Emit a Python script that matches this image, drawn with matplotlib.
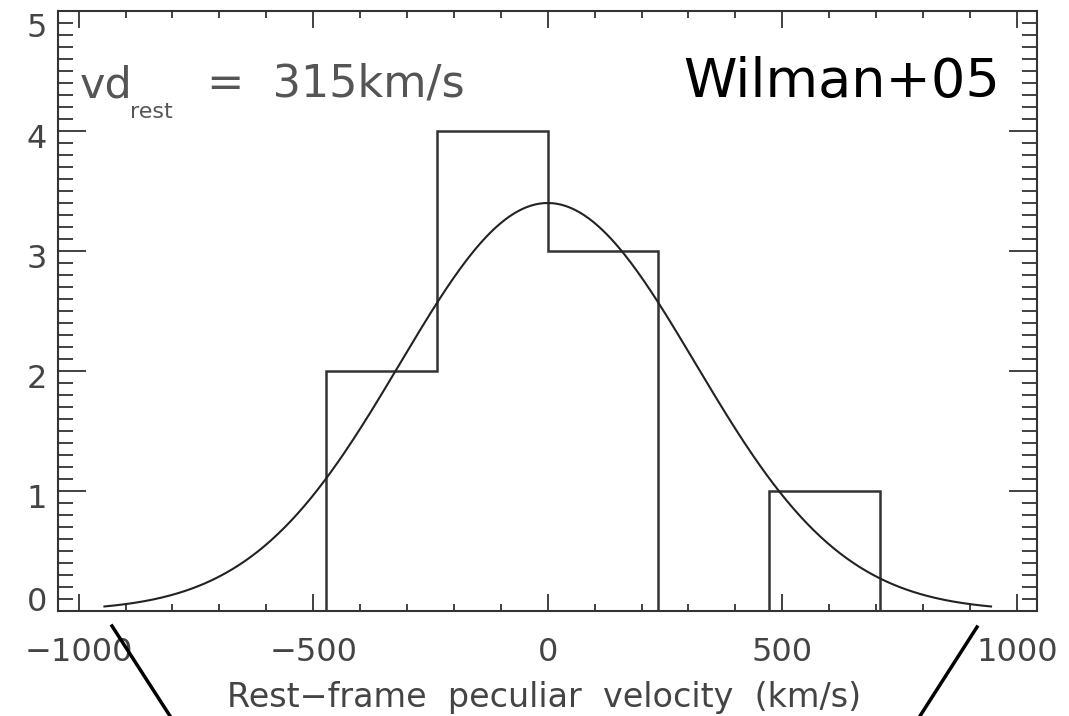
import numpy as np
import matplotlib.pyplot as plt
import matplotlib.transforms as mtransforms
from matplotlib.ticker import MultipleLocator
from matplotlib.lines import Line2D

# histogram of rest-frame peculiar velocities (Wilman+05)
bin_edges = [-472, -236, 0, 236, 472, 708]
counts = [2, 4, 3, 0, 1]

# gaussian fit
g_mean = 0.0
g_sigma = 315.0
g_amp = 3.4
g_range = (-945, 945)

xticks = [-1000, -500, 0, 500, 1000]
yticks = [0, 1, 2, 3, 4, 5]

W, H = 1069, 716
fig = plt.figure(figsize=(W / 100, H / 100), dpi=100)
ax = fig.add_axes([58 / W, 1 - 611 / H, (1037 - 58) / W, (611 - 11) / H])

grey = '#444444'

# histogram drawn as IDL-style step outline down to the axis
xs = [bin_edges[0]]
ys = [0]
for i, c in enumerate(counts):
    xs += [bin_edges[i], bin_edges[i + 1]]
    ys += [c, c]
xs.append(bin_edges[-1])
ys.append(0)
ax.plot(xs, ys, color='#333333', lw=1.8, solid_joinstyle='miter')

# gaussian curve
xg = np.linspace(g_range[0], g_range[1], 400)
yg = g_amp * np.exp(-0.5 * ((xg - g_mean) / g_sigma) ** 2)
ax.plot(xg, yg, color='#222222', lw=1.5)

ax.set_xlim(-1044, 1043)
ax.set_ylim(0, 5)
ax.set_xticks(xticks)
ax.set_xticklabels(['\u22121000', '\u2212500', '0', '500', '1000'])
ax.set_yticks(yticks)
ax.xaxis.set_minor_locator(MultipleLocator(100))
ax.yaxis.set_minor_locator(MultipleLocator(0.1))

for s in ax.spines.values():
    s.set_color('#333333')
    s.set_linewidth(1.5)

ax.tick_params(axis='x', which='major', direction='in', length=12, width=1.3,
               top=True, bottom=True, colors='#333333', labelcolor=grey,
               labelsize=23, pad=19)
ax.tick_params(axis='x', which='minor', direction='in', length=5, width=1.3,
               top=True, bottom=True, colors='#333333')
ax.tick_params(axis='y', which='major', direction='in', length=20, width=1.3,
               left=True, right=True, colors='#333333', labelcolor=grey,
               labelsize=23, pad=8)
ax.tick_params(axis='y', which='minor', direction='in', length=11, width=1.3,
               left=True, right=True, colors='#333333')

# IDL places the end labels inside the range
for lab, val in zip(ax.get_yticklabels(), yticks):
    dy = -5
    if val == 0:
        dy = 12
    elif val == 5:
        dy = -14
    lab.set_transform(lab.get_transform() +
                      mtransforms.ScaledTranslation(0, dy / 100, fig.dpi_scale_trans))

fig.text(544 / W, 1 - 707 / H, 'Rest\u2212frame  peculiar  velocity  (km/s)',
         fontsize=24, color=grey, ha='center', va='baseline')

# annotation text
fig.text(80 / W, 1 - 97 / H, 'vd', fontsize=31, color='#555555', va='baseline')
fig.text(130 / W, 1 - 118 / H, 'rest', fontsize=16, color='#555555', va='baseline')
fig.text(207 / W, 1 - 97 / H, '=  315km/s', fontsize=32, color='#555555', va='baseline')
fig.text(1000 / W, 1 - 97 / H, 'Wilman+05', fontsize=39, color='black',
         ha='right', va='baseline')

# slide pointer lines below the axis
for (x0, y0, x1, y1) in [(112, 626, 170, 716), (977, 627, 920, 716)]:
    fig.add_artist(Line2D([x0 / W, x1 / W], [1 - y0 / H, 1 - y1 / H],
                          transform=fig.transFigure, color='black', lw=2.5))

fig.savefig('out.png', dpi=100)
